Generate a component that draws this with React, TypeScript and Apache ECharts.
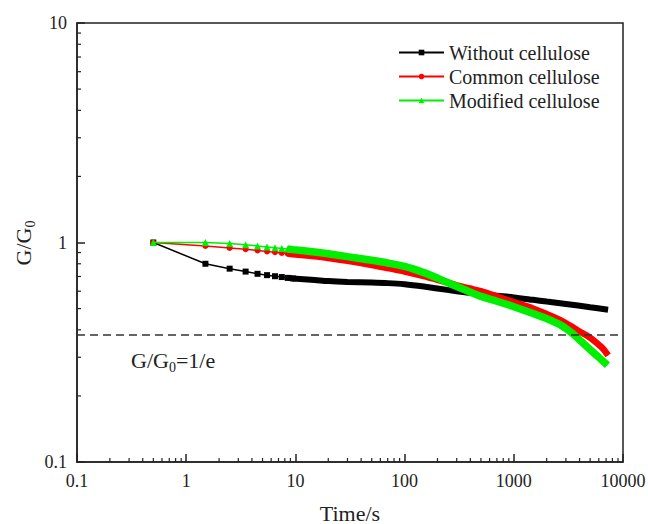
import React, { useEffect, useRef } from "react";
import * as echarts from "echarts";

// ---- Data ----
const SERIES_NAMES = ["Without cellulose", "Common cellulose", "Modified cellulose"];

const TIME_WITHOUT = [0.5, 1.5, 2.5, 3.5, 4.5, 5.5, 6.5, 7.5, 8.5, 9.5, 15, 20, 30, 50, 70, 100, 150, 200, 300, 500, 700, 1000, 1500, 2000, 3000, 5000, 7300];
const G_WITHOUT = [1.0, 0.8, 0.76, 0.737, 0.72, 0.71, 0.702, 0.696, 0.69, 0.686, 0.675, 0.667, 0.661, 0.657, 0.653, 0.645, 0.63, 0.617, 0.6, 0.582, 0.572, 0.562, 0.548, 0.538, 0.525, 0.507, 0.494];

const TIME_COMMON = [0.5, 1.5, 2.5, 3.5, 4.5, 5.5, 6.5, 7.5, 8.5, 9.5, 15, 20, 30, 50, 70, 100, 150, 200, 300, 400, 500, 700, 1000, 1500, 2000, 2700, 3500, 4000, 4700, 5500, 6500, 7300];
const G_COMMON = [1.0, 0.965, 0.945, 0.932, 0.92, 0.91, 0.903, 0.896, 0.89, 0.885, 0.865, 0.85, 0.825, 0.79, 0.765, 0.738, 0.703, 0.676, 0.638, 0.617, 0.6, 0.568, 0.535, 0.5, 0.472, 0.442, 0.41, 0.393, 0.376, 0.355, 0.33, 0.306];

const TIME_MODIFIED = [0.5, 1.5, 2.5, 3.5, 4.5, 5.5, 6.5, 7.5, 8.5, 9.5, 15, 20, 30, 50, 70, 100, 150, 200, 300, 400, 500, 700, 1000, 1500, 2000, 2700, 3500, 4000, 5000, 6000, 7200];
const G_MODIFIED = [1.0, 1.0, 0.99, 0.976, 0.965, 0.955, 0.947, 0.94, 0.934, 0.928, 0.905, 0.888, 0.862, 0.83, 0.807, 0.778, 0.729, 0.688, 0.63, 0.594, 0.568, 0.54, 0.51, 0.475, 0.45, 0.42, 0.383, 0.36, 0.325, 0.3, 0.276];

const THRESHOLD = 0.376; // G/G0 = 1/e reference line
const X_TICK_LABELS = ["0.1", "1", "10", "100", "1000", "10000"];
const Y_TICK_LABELS = ["0.1", "1", "10"];
const X_TITLE = "Time/s";
const X_MIN = 0.1, X_MAX = 10000, Y_MIN = 0.1, Y_MAX = 10;
const X_DECADES = [0.1, 1, 10, 100, 1000];
const Y_DECADES = [0.1, 1];
const MINOR_STEPS = [2, 3, 4, 5, 6, 7, 8, 9];

const MARKER_LIMIT = 9.6; // individual markers visible up to here, dense band afterwards
const BAND_START = 8.5;

const FONT = "Liberation Serif, Times New Roman, serif";
const INK = "#222";

export default function App() {
  const ref = useRef<HTMLDivElement>(null);

  useEffect(() => {
    if (!ref.current) return;
    const chart = echarts.init(ref.current, undefined, { renderer: "svg" });

    const xMinor = X_DECADES.flatMap((d) => MINOR_STEPS.map((k) => +(k * d).toPrecision(4)));
    const yMinor = Y_DECADES.flatMap((d) => MINOR_STEPS.map((k) => +(k * d).toPrecision(4)));

    const defs = [
      { name: SERIES_NAMES[0], t: TIME_WITHOUT, g: G_WITHOUT, color: "#000000", symbol: "rect", size: 6, band: 6, z: 2 },
      { name: SERIES_NAMES[1], t: TIME_COMMON, g: G_COMMON, color: "#ff0000", symbol: "circle", size: 6, band: 6.5, z: 3 },
      { name: SERIES_NAMES[2], t: TIME_MODIFIED, g: G_MODIFIED, color: "#00ee00", symbol: "triangle", size: 7, band: 7.5, z: 4 },
    ];

    const series: any[] = [];
    defs.forEach((d, si) => {
      series.push({
        name: d.name,
        type: "line",
        z: d.z,
        symbol: d.symbol,
        symbolSize: d.size,
        itemStyle: { color: d.color },
        lineStyle: { color: d.color, width: 1.5 },
        data: d.t.map((t, i) => ({
          value: [t, d.g[i]],
          symbol: t <= MARKER_LIMIT ? d.symbol : "none",
        })),
        markLine:
          si === 0
            ? {
                silent: true,
                symbol: "none",
                label: { show: false },
                lineStyle: { color: "#333", width: 1.5, type: [8, 5] },
                data: [{ yAxis: THRESHOLD }],
              }
            : undefined,
      });
      series.push({
        name: d.name + " band",
        type: "line",
        z: d.z,
        symbol: "none",
        smooth: 0.3,
        lineStyle: { color: d.color, width: d.band },
        data: d.t
          .map((t, i) => [t, d.g[i]])
          .filter((p) => p[0] >= BAND_START),
      });
    });

    series.push({
      type: "custom",
      name: "xminor",
      silent: true,
      z: 10,
      clip: false,
      encode: { x: 0, y: 1 },
      data: xMinor.map((v) => [v, Y_MIN]),
      renderItem: (_p: any, api: any) => {
        const p = api.coord([api.value(0), api.value(1)]);
        return {
          type: "line",
          shape: { x1: p[0], y1: p[1], x2: p[0], y2: p[1] - 4 },
          style: { stroke: INK, lineWidth: 1.2 },
        };
      },
    });
    series.push({
      type: "custom",
      name: "yminor",
      silent: true,
      z: 10,
      clip: false,
      encode: { x: 0, y: 1 },
      data: yMinor.map((v) => [X_MIN, v]),
      renderItem: (_p: any, api: any) => {
        const p = api.coord([api.value(0), api.value(1)]);
        return {
          type: "line",
          shape: { x1: p[0], y1: p[1], x2: p[0] + 4, y2: p[1] },
          style: { stroke: INK, lineWidth: 1.2 },
        };
      },
    });

    const fmt = (labels: string[]) => (v: number) => {
      const s = String(+v.toPrecision(6));
      return labels.includes(s) ? s : "";
    };

    const rich = {
      a: { fontSize: 22, fontFamily: FONT, fill: INK, verticalAlign: "top" },
      s: { fontSize: 14, fontFamily: FONT, fill: INK, verticalAlign: "top", padding: [11, 0, 0, 0] },
    };

    chart.setOption({
      animation: false,
      backgroundColor: "#ffffff",
      textStyle: { fontFamily: FONT, color: INK },
      grid: {
        left: 77,
        right: 25,
        top: 23,
        bottom: 62,
        outerBoundsMode: "none",
        show: true,
        borderColor: INK,
        borderWidth: 1.5,
      },
      legend: {
        orient: "vertical",
        left: 393,
        top: 37.5,
        itemWidth: 45,
        itemHeight: 7,
        itemGap: 4,
        data: SERIES_NAMES,
        textStyle: { fontSize: 20, fontFamily: FONT, color: INK, lineHeight: 20 },
      },
      xAxis: {
        type: "log",
        logBase: 10,
        min: X_MIN,
        max: X_MAX,
        name: X_TITLE,
        nameLocation: "middle",
        nameGap: 40,
        nameTextStyle: { fontSize: 22, fontFamily: FONT, color: INK },
        axisLine: { show: true, lineStyle: { color: INK, width: 1.5 } },
        axisTick: { show: true, inside: true, length: 8, lineStyle: { color: INK, width: 1.5 } },
        axisLabel: { fontSize: 18, fontFamily: FONT, color: INK, margin: 10, formatter: fmt(X_TICK_LABELS) },
        splitLine: { show: false },
      },
      yAxis: {
        type: "log",
        logBase: 10,
        min: Y_MIN,
        max: Y_MAX,
        axisLine: { show: true, lineStyle: { color: INK, width: 1.5 } },
        axisTick: { show: true, inside: true, length: 8, lineStyle: { color: INK, width: 1.5 } },
        axisLabel: { fontSize: 18, fontFamily: FONT, color: INK, margin: 10, formatter: fmt(Y_TICK_LABELS) },
        splitLine: { show: false },
      },
      graphic: [
        {
          type: "text",
          x: 12.5,
          y: 243,
          rotation: Math.PI / 2,
          silent: true,
          style: {
            text: "{a|G/G}{s|0}",
            rich,
            align: "center",
            verticalAlign: "top",
            fill: INK,
          },
        },
        {
          type: "text",
          x: 131,
          y: 349.5,
          silent: true,
          style: {
            text: "{a|G/G}{s|0}{a|=1/e}",
            rich,
            align: "left",
            verticalAlign: "top",
            fill: INK,
          },
        },
      ],
      series,
    });

    return () => chart.dispose();
  }, []);

  return (
    <div
      ref={ref}
      style={{ position: "absolute", left: 0, top: 0, width: 648, height: 524, background: "#fff" }}
    />
  );
}
